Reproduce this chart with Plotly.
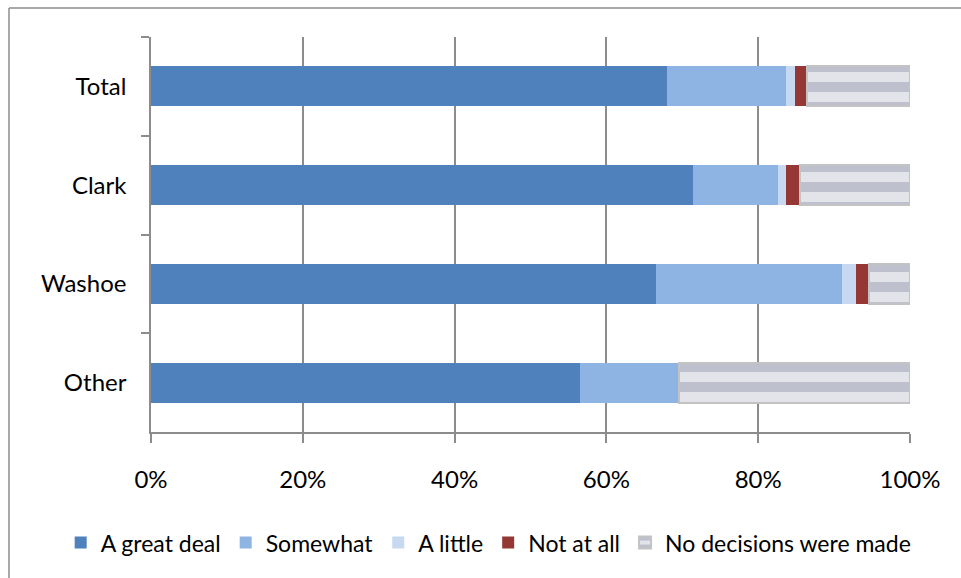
import plotly.graph_objects as go

categories = ["Total", "Clark", "Washoe", "Other"]
great_deal = [68.0, 71.4, 66.5, 56.5]
somewhat = [15.7, 11.2, 24.5, 13.0]
a_little = [1.2, 1.05, 1.85, 0.0]
not_at_all = [1.5, 1.85, 1.7, 0.0]
no_decisions = [13.6, 14.5, 5.45, 30.5]

series = [
    ("A great deal", great_deal, "#4f81bd"),
    ("Somewhat", somewhat, "#8eb4e3"),
    ("A little", a_little, "#c6d9f1"),
    ("Not at all", not_at_all, "#953735"),
]

FONT = "Lato"
fig = go.Figure()
for name, vals, col in series:
    fig.add_trace(go.Bar(
        y=categories, x=[v / 100 for v in vals], name=name, orientation="h",
        marker=dict(color=col, line=dict(width=0)),
    ))
fig.add_trace(go.Bar(
    y=categories, x=[v / 100 for v in no_decisions], name="No decisions were made",
    orientation="h",
    marker=dict(color="#e4e5ea", line=dict(color="#c3c3c3", width=2),
                pattern=dict(shape="-", fgcolor="#9a9eb1", bgcolor="#e3e4e9",
                             size=20, solidity=0.5, fillmode="overlay")),
))

fig.update_layout(
    barmode="stack",
    bargap=0.595,
    width=961, height=578,
    margin=dict(l=151, r=51, t=37, b=146),
    paper_bgcolor="white", plot_bgcolor="white",
    font=dict(family=FONT, size=24, color="black"),
    legend=dict(orientation="h", x=-0.119, xanchor="left", y=-0.28, yanchor="middle",
                font=dict(size=23), itemwidth=30, tracegroupgap=0, traceorder="normal"),
    xaxis=dict(range=[0, 1], dtick=0.2, tickformat=".0%", showgrid=True,
               gridcolor="#8c8c8c", gridwidth=1.5, showline=True, linecolor="#8c8c8c",
               linewidth=1.5, ticks="outside", ticklen=9, tickcolor="#8c8c8c",
               tickwidth=1.5, zeroline=False, ticklabelstandoff=16, fixedrange=True),
    yaxis=dict(categoryorder="array", categoryarray=categories, autorange="reversed",
               showline=True, linecolor="#8c8c8c", linewidth=1.5, ticks="outside",
               ticklen=8, tickcolor="#8c8c8c", tickwidth=1.5, tickson="boundaries",
               showgrid=False, ticklabelstandoff=18, fixedrange=True),
    shapes=[
        dict(type="line", xref="paper", yref="paper", x0=(9 - 151) / 759, x1=1.2,
             y0=1 + (37 - 8) / 395, y1=1 + (37 - 8) / 395,
             line=dict(color="#8c8c8c", width=1.5)),
        dict(type="line", xref="paper", yref="paper", x0=(9 - 151) / 759, x1=(9 - 151) / 759,
             y0=1 + (37 - 8) / 395, y1=-0.5, line=dict(color="#8c8c8c", width=1.5)),
    ],
)

fig.write_html("out.html")
